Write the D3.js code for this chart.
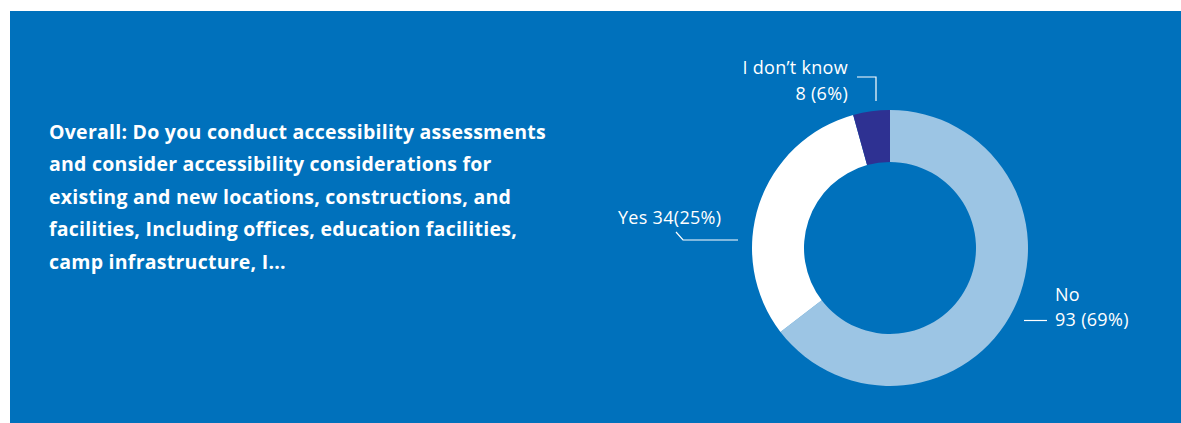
<!DOCTYPE html>
<html>
<head>
<meta charset="utf-8">
<title>Accessibility assessments - donut</title>
<script src="https://d3js.org/d3.v7.min.js"></script>
<style>
  body { margin: 0; background: #fff; }
  svg { display: block; }
  text { font-family: "Open Sans", "Liberation Sans", sans-serif; fill: #fff; }
</style>
</head>
<body>
<div id="chart"></div>
<script>
// answers, in drawing order (clockwise from 12 o'clock)
var categories = ["No", "Yes", "I don\u2019t know"];
var counts = [93, 34, 8];
var percents = [69, 25, 6];
// slice sizes as drawn in the picture (%)
var shares = [64.6, 31.1, 4.3];
var colors = ["#9cc5e4", "#ffffff", "#2e3192"];

var titleLines = [
  "Overall: Do you conduct accessibility assessments",
  "and consider accessibility considerations for",
  "existing and new locations, constructions, and",
  "facilities, Including offices, education facilities,",
  "camp infrastructure, I..."
];

var W = 1181, H = 423;
var cx = 890, cy = 248, outerR = 138, innerR = 86;

var svg = d3.select("#chart").append("svg")
  .attr("width", W)
  .attr("height", H);

// blue panel
svg.append("rect")
  .attr("x", 10).attr("y", 11)
  .attr("width", W - 10).attr("height", H - 11)
  .attr("fill", "#0071bc");

// question text
var title = svg.append("text")
  .attr("x", 49)
  .attr("y", 139)
  .style("font-size", "19.5px")
  .style("letter-spacing", "0.25px")
  .style("font-weight", 700);
title.selectAll("tspan")
  .data(titleLines)
  .enter().append("tspan")
  .attr("x", 49)
  .attr("dy", function (d, i) { return i === 0 ? 0 : 32.4; })
  .text(function (d) { return d; });

// donut
var pie = d3.pie().sort(null).value(function (d) { return d; });
var arc = d3.arc().innerRadius(innerR).outerRadius(outerR);
var g = svg.append("g").attr("transform", "translate(" + cx + "," + cy + ")");

g.selectAll("path")
  .data(pie(shares))
  .enter().append("path")
  .attr("d", arc)
  .attr("fill", function (d, i) { return colors[i]; });

// labels: leader polylines are placed relative to the donut centre
var labelLayout = [
  { // No
    lines: [categories[0], counts[0] + " (" + percents[0] + "%)"],
    x: 165, y: 53, anchor: "start", dy: 24.5,
    leader: [[134, 72.5], [157, 72.5]]
  },
  { // Yes
    lines: [categories[1] + " " + counts[1] + "(" + percents[1] + "%)"],
    x: -272, y: -24.5, anchor: "start", dy: 0,
    leader: [[-214, -16], [-207, -8], [-152, -8]]
  },
  { // I don't know
    lines: [categories[2], counts[2] + " (" + percents[2] + "%)"],
    x: -42, y: -174, anchor: "end", dy: 26,
    leader: [[-33, -171], [-14, -171], [-14, -147]]
  }
];

var line = d3.line();
labelLayout.forEach(function (l) {
  g.append("path")
    .attr("d", line(l.leader))
    .attr("fill", "none")
    .attr("stroke", "#fff")
    .attr("stroke-width", 1.2);
  var t = g.append("text")
    .attr("x", l.x).attr("y", l.y)
    .attr("text-anchor", l.anchor)
    .style("font-size", "18px")
    .style("letter-spacing", "0.3px")
    .style("font-weight", 400);
  t.selectAll("tspan")
    .data(l.lines)
    .enter().append("tspan")
    .attr("x", l.x)
    .attr("dy", function (d, i) { return i === 0 ? 0 : l.dy; })
    .text(function (d) { return d; });
});
</script>
</body>
</html>
